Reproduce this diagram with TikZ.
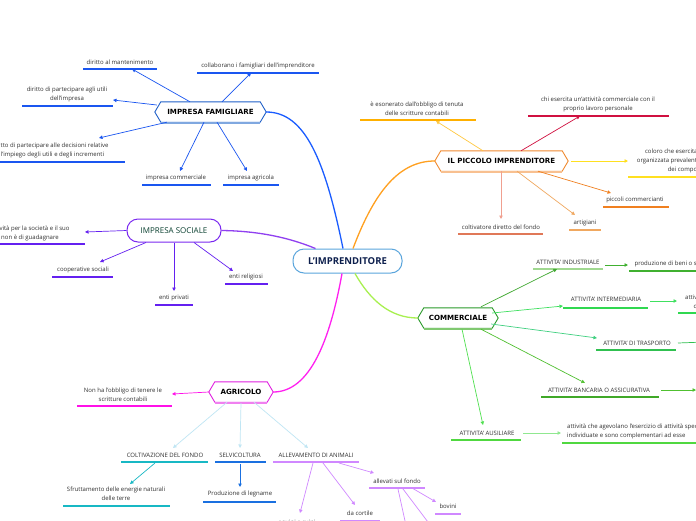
\documentclass[tikz,border=0pt]{standalone}
\usepackage{fontspec}
\setmainfont{Open Sans}
\newfontfamily\hexfont{DejaVu Sans}
\usetikzlibrary{arrows.meta,calc}
\definecolor{rootB}{HTML}{5AA5DC}
\definecolor{rootT}{HTML}{0D1F4D}
\definecolor{blueM}{HTML}{1A5CFF}
\definecolor{blueL}{HTML}{1A56F0}
\definecolor{famB}{HTML}{2060C8}
\definecolor{famL}{HTML}{80A8E0}
\definecolor{purM}{HTML}{9040F0}
\definecolor{socB}{HTML}{7A28F0}
\definecolor{purL}{HTML}{6420F0}
\definecolor{socT}{HTML}{0A4030}
\definecolor{magM}{HTML}{FF20F0}
\definecolor{agrB}{HTML}{E020E0}
\definecolor{agrL}{HTML}{F080F0}
\definecolor{magL}{HTML}{FF10E8}
\definecolor{skyL}{HTML}{C0E6F4}
\definecolor{tealL}{HTML}{18B8C4}
\definecolor{selvL}{HTML}{1A70E0}
\definecolor{violL}{HTML}{D088FF}
\definecolor{oraM}{HTML}{FFA020}
\definecolor{picB}{HTML}{F08A30}
\definecolor{picL}{HTML}{F8C090}
\definecolor{yelA}{HTML}{FFC840}
\definecolor{yelU}{HTML}{FFB000}
\definecolor{crim}{HTML}{D01040}
\definecolor{yelB}{HTML}{FFE020}
\definecolor{oraL}{HTML}{F08020}
\definecolor{artL}{HTML}{F0A860}
\definecolor{colU}{HTML}{E07858}
\definecolor{colA}{HTML}{F0A090}
\definecolor{grnM}{HTML}{A8F050}
\definecolor{comB}{HTML}{2A9A2A}
\definecolor{comL}{HTML}{80C870}
\definecolor{indA}{HTML}{40A830}
\definecolor{indU}{HTML}{A0D890}
\definecolor{prodL}{HTML}{40B030}
\definecolor{intA}{HTML}{40E060}
\definecolor{intU}{HTML}{30D850}
\definecolor{traA}{HTML}{40D080}
\definecolor{traU}{HTML}{30C050}
\definecolor{banA}{HTML}{50C030}
\definecolor{banU}{HTML}{40A828}
\definecolor{ausA}{HTML}{50E050}
\definecolor{ausU}{HTML}{50D840}
\definecolor{ausB}{HTML}{90E890}
\definecolor{txt}{HTML}{303030}
\tikzset{
  leaf/.style={font=\fontsize{6}{9}\selectfont, align=center, inner sep=0pt, text=txt},
  leafl/.style={font=\fontsize{6}{9}\selectfont, align=left, inner sep=0pt, text=txt},
  ul/.style={line width=1.3pt},
  arr/.style={-{Triangle[length=3.5pt,width=3.4pt]}, line width=0.7pt},
  mainline/.style={line width=1.3pt},
  hexnode/.style={font=\hexfont\bfseries\fontsize{7.1}{9}\selectfont, inner sep=0pt, minimum height=20pt, text=black},
}
\newcommand\leaf[8]{%
  \node[leaf] (#1) at (#2,#3) {#8};
  \draw[ul,#7] (#4,#6) -- (#5,#6);
}
\newcommand\hexshape[3]{%
  \draw[#2, line width=0.9pt] ([xshift=-6pt]#1.west) -- (#1.north west) -- (#1.north east) -- ([xshift=6pt]#1.east) -- (#1.south east) -- (#1.south west) -- cycle;
  \draw[#3, line width=1.2pt] ([yshift=-0.7pt]#1.south west) -- ([yshift=-0.7pt]#1.south east);
}
\begin{document}
\begin{tikzpicture}[x=1pt,y=-1pt]
\useasboundingbox (0,0) rectangle (696,520);
\clip (0,0) rectangle (696,520);
\fill[white] (0,0) rectangle (696,520);

% central and main nodes
\node[draw=rootB, line width=1pt, rounded corners=11pt, minimum width=109pt, minimum height=24pt, inner sep=0pt,
      font=\bfseries\fontsize{9.5}{11}\selectfont, text=rootT] (root) at (347.5,261) {L'IMPRENDITORE};
\node[hexnode, minimum width=99pt] (fam) at (210.5,112) {IMPRESA FAMIGLIARE};
\hexshape{fam}{famB}{famL}
\node[draw=socB, line width=1pt, rounded corners=11pt, minimum width=94pt, minimum height=23pt, inner sep=0pt,
      font=\fontsize{8}{10}\selectfont, text=socT] (soc) at (174,230.5) {IMPRESA SOCIALE};
\node[hexnode, minimum width=52pt] (agr) at (241,392) {AGRICOLO};
\hexshape{agr}{agrB}{agrL}
\node[hexnode, minimum width=121pt] (picc) at (501.5,161) {IL PICCOLO IMPRENDITORE};
\hexshape{picc}{picB}{picL}
\node[hexnode, minimum width=68pt] (comm) at (458,318) {COMMERCIALE};
\hexshape{comm}{comB}{comL}

% main connectors
\draw[mainline, blueM] ([xshift=-4.5pt]root.north) .. controls (325,160) and (305,112) .. ([xshift=6pt]fam.east);
\draw[mainline, purM] ([xshift=-32pt]root.north) .. controls (290,238) and (260,231) .. (soc.east);
\draw[mainline, magM] ([xshift=-5.5pt]root.south) .. controls (330,340) and (310,392) .. ([xshift=6pt]agr.east);
\draw[mainline, oraM] ([xshift=5.5pt]root.north) .. controls (375,190) and (400,161) .. ([xshift=-6pt]picc.west);
\draw[mainline, grnM] ([xshift=7.5pt]root.south) .. controls (370,300) and (390,318) .. ([xshift=-6pt]comm.west);

% IMPRESA FAMIGLIARE
\leaf{f1}{120}{62}{83}{157}{69}{blueL}{diritto al mantenimento}
\leaf{f2}{258}{66}{197}{319}{73}{blueL}{collaborano i famigliari dell'imprenditore}
\leaf{f3}{67}{94}{22}{113}{106}{blueL}{diritto di partecipare agli utili\\dell'impresa}
\leaf{f4}{50}{150.5}{-15}{125}{162}{blueL}{diritto di partecipare alle decisioni relative\\all'impiego degli utili e degli incrementi}
\leaf{f5}{176}{178}{142}{211}{185}{blueL}{impresa commerciale}
\leaf{f6}{251}{178}{223}{279}{185}{blueL}{impresa agricola}
\coordinate (f1t) at (132,69);
\coordinate (f2t) at (251,73);
\coordinate (f3t) at (113,100);
\coordinate (f4t) at (99,138);
\coordinate (f5t) at (180,171);
\coordinate (f6t) at (247,171);
\draw[arr,blueL] ([xshift=-20.5pt]fam.north) -- (f1t);
\draw[arr,blueL] ([xshift=11.5pt]fam.north) -- (f2t);
\draw[arr,blueL] ([xshift=-4pt,yshift=7pt]fam.west) -- (f3t);
\draw[arr,blueL] ([xshift=6pt]fam.south west) -- (f4t);
\draw[arr,blueL] ([xshift=-6.5pt]fam.south) -- (f5t);
\draw[arr,blueL] ([xshift=6.5pt]fam.south) -- (f6t);

% IMPRESA SOCIALE
\leaf{s1}{30}{233.5}{-25}{85}{244}{purL}{attività per la società e il suo\\non è di guadagnare}
\leaf{s2}{83}{270}{52}{113}{277}{purL}{cooperative sociali}
\leaf{s3}{174}{298}{155}{193}{305}{purL}{enti privati}
\leaf{s4}{246}{277}{225}{268}{284}{purL}{enti religiosi}
\coordinate (s1t) at (85,232);
\coordinate (s2t) at (100,262);
\coordinate (s3t) at (174,291);
\coordinate (s4t) at (233,271);
\draw[arr,purL] (soc.west) -- (s1t);
\draw[arr,purL] ([xshift=-28pt]soc.south) -- (s2t);
\draw[arr,purL] (soc.south) -- (s3t);
\draw[arr,purL] ([xshift=20pt]soc.south) -- (s4t);

% AGRICOLO
\leaf{a1}{123}{395}{77}{172}{406}{magL}{Non ha l'obbligo di tenere le\\scritture contabili}
\leaf{a2}{165}{455}{121}{208}{462}{tealL}{COLTIVAZIONE DEL FONDO}
\leaf{a3}{240}{455}{215}{266}{462}{selvL}{SELVICOLTURA}
\leaf{a4}{316}{455}{273}{359}{462}{violL}{ALLEVAMENTO DI ANIMALI}
\leaf{a5}{116}{493.5}{63}{170}{506}{tealL}{Sfruttamento delle energie naturali\\delle terre}
\leaf{a6}{240}{494}{203}{276}{502}{selvL}{Produzione di legname}
\leaf{a7}{397}{481}{369}{425}{488}{violL}{allevati sul fondo}
\leaf{a8}{360}{513}{340}{380}{521}{violL}{da cortile}
\leaf{a9}{297}{523.5}{270}{325}{531}{violL}{equini e suini}
\leaf{a10}{448}{506.5}{435}{461}{514}{violL}{bovini}
\coordinate (a1t) at (172,394);
\coordinate (a2t) at (173,448);
\coordinate (a3t) at (240,448);
\coordinate (a4t) at (308,448);
\coordinate (a5s) at (155,463);
\coordinate (a5t) at (130,484);
\coordinate (a6s) at (240,464);
\coordinate (a6t) at (240,487);
\coordinate (a7s) at (339,463);
\coordinate (a7t) at (374,473);
\coordinate (a8s) at (323,463);
\coordinate (a8t) at (355,505);
\coordinate (a9s) at (313,463);
\coordinate (a9t) at (300,513);
\coordinate (a10s) at (412,488);
\coordinate (a10t) at (436,502);
\coordinate (a11s) at (398,489);
\coordinate (a11t) at (407,530);
\coordinate (a12s) at (403,489);
\coordinate (a12t) at (434,530);
\draw[arr,magL] ([xshift=-6pt]agr.west) -- (a1t);
\draw[arr,skyL] ([xshift=-14pt]agr.south) -- (a2t);
\draw[arr,skyL] ([yshift=-1pt]agr.south) -- (a3t);
\draw[arr,skyL] ([xshift=13pt]agr.south) -- (a4t);
\draw[arr,tealL] (a5s) -- (a5t);
\draw[arr,selvL,line width=1pt] (a6s) -- (a6t);
\draw[arr,violL] (a7s) -- (a7t);
\draw[arr,violL] (a8s) -- (a8t);
\draw[arr,violL] (a9s) -- (a9t);
\draw[arr,violL] (a10s) -- (a10t);
\draw[arr,violL] (a11s) -- (a11t);
\draw[arr,violL] (a12s) -- (a12t);

% IL PICCOLO IMPRENDITORE
\leaf{p1}{417}{108.5}{360}{476}{120}{yelU}{è esonerato dall'obbligo di tenuta\\delle scritture contabili}
\leaf{p2}{598}{104}{528}{669}{116}{crim}{chi esercita un'attività commerciale con il\\proprio lavoro personale}
\leaf{p3}{709}{161}{628}{790}{177}{yelB}{coloro che esercitano un'attività professionale\\organizzata prevalentemente con il lavoro proprio e\\dei componenti della famiglia}
\leaf{p4}{635}{199.5}{603}{669}{207}{oraL}{piccoli commercianti}
\leaf{p5}{585}{223}{569}{601}{230}{artL}{artigiani}
\leaf{p6}{501}{227}{458}{543}{234}{colU}{coltivatore diretto del fondo}
\coordinate (p1t) at (436,121);
\coordinate (p2t) at (580,116);
\coordinate (p3t) at (628,161);
\coordinate (p4t) at (611,193);
\coordinate (p5t) at (575,215);
\coordinate (p6t) at (501,219);
\draw[arr,yelA] ([xshift=-18.5pt]picc.north) -- (p1t);
\draw[arr,crim] ([xshift=19.5pt]picc.north) -- (p2t);
\draw[arr,yelB] ([xshift=9pt]picc.east) -- (p3t);
\draw[arr,oraL] ([xshift=36.5pt]picc.south) -- (p4t);
\draw[arr,artL] ([xshift=15.5pt]picc.south) -- (p5t);
\draw[arr,colA] ([xshift=-0.5pt]picc.south) -- (p6t);

% COMMERCIALE
\leaf{c1}{568}{262}{533}{603}{269}{indU}{ATTIVITA' INDUSTRIALE}
\leaf{c1b}{673}{264}{629}{720}{271}{prodL}{produzione di beni o servizi}
\leaf{c2}{606}{299}{563}{648}{308}{intU}{ATTIVITA' INTERMEDIARIA}
\leaf{c2b}{722}{302}{678}{770}{313}{intU}{attività intermediaria nella\\circolazione dei beni}
\leaf{c3}{637}{343}{596}{676}{350}{traU}{ATTIVITA' DI TRASPORTO}
\leaf{c4}{599}{390}{541}{659}{397}{banU}{ATTIVITA' BANCARIA O ASSICURATIVA}
\leaf{c5}{487}{433}{451}{521}{440}{ausU}{ATTIVITA' AUSILIARE}
\node[leafl, anchor=west] (c5b) at (567,431.5) {attività che agevolano l'esercizio di attività specificamente\\individuate e sono complementari ad esse};
\draw[ul,ausU] (562,443) -- (770,443);
\coordinate (c1t) at (557,269);
\coordinate (c1bs) at (605,265);
\coordinate (c1bt) at (628,265);
\coordinate (c2t) at (563,306);
\coordinate (c2bs) at (650,301);
\coordinate (c2bt) at (677,301);
\coordinate (c3t) at (597,338);
\coordinate (c3bs) at (678,343);
\coordinate (c3bt) at (705,342);
\coordinate (c4t) at (585,383);
\coordinate (c4bs) at (661,390);
\coordinate (c4bt) at (696,390);
\coordinate (c5t) at (483,425);
\coordinate (c5bs) at (523,433);
\coordinate (c5bt) at (561,433);
\draw[arr,indA] ([xshift=23pt,yshift=1pt]comm.north) -- (c1t);
\draw[arr,prodL] (c1bs) -- (c1bt);
\draw[arr,intA] ([yshift=5pt]comm.east) -- (c2t);
\draw[arr,intA] (c2bs) -- (c2bt);
\draw[arr,traA] ([xshift=-1pt,yshift=-6pt]comm.east) -- (c3t);
\draw[arr,traU] (c3bs) -- (c3bt);
\draw[arr,banA] ([xshift=23pt,yshift=-1pt]comm.south) -- (c4t);
\draw[arr,banA] (c4bs) -- (c4bt);
\draw[arr,ausA] ([xshift=4pt,yshift=-1pt]comm.south) -- (c5t);
\draw[arr,ausB] (c5bs) -- (c5bt);
\end{tikzpicture}
\end{document}
